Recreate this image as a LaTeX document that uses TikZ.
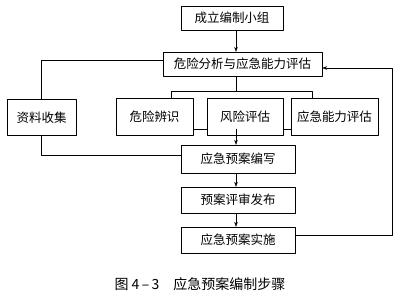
\documentclass[tikz,border=0pt]{standalone}
\usepackage{fontspec}
\newfontfamily\cjk{Noto Sans CJK SC}
\usetikzlibrary{arrows.meta}

\begin{document}
\begin{tikzpicture}[x=1pt,y=-1pt,line cap=round,line join=round,
    box/.style={draw,fill=white,inner sep=0pt,font=\cjk\fontsize{12.5}{14}\selectfont},
    arr/.style={-{Stealth[length=5pt,width=3.6pt]}}]
  \useasboundingbox (0,0) rectangle (400,296);
  \coordinate (spine) at (236,0);
  \coordinate (fb) at (392,0);

  \draw (171,91) rectangle (312,129);

  \node[box,minimum width=102,minimum height=24] (team) at (232,18) {成立编制小组};
  \node[box,minimum width=159,minimum height=24] (analysis) at (242.5,64) {危险分析与应急能力评估};
  \node[box,minimum width=69,minimum height=36] (collect) at (41.5,117.5) {资料收集};
  \node[box,minimum width=77,minimum height=37] (hazard) at (154.5,116.5) {危险辨识};
  \node[box,minimum width=76,minimum height=37] (risk) at (245,116.5) {风险评估};
  \node[box,minimum width=87,minimum height=37] (capacity) at (334.5,116.5) {应急能力评估};
  \node[box,minimum width=114,minimum height=28] (write) at (238,159) {应急预案编写};
  \node[box,minimum width=114,minimum height=26] (review) at (238,200) {预案评审发布};
  \node[box,minimum width=114,minimum height=26] (implement) at (238,240) {应急预案实施};

  \draw[arr] (team.south -| spine) -- (analysis.north -| spine);
  \draw (analysis.south -| spine) -- (spine |- 0,91);
  \draw[arr] (spine |- 0,129) -- (write.north -| spine);
  \draw[arr] (write.south -| spine) -- (review.north -| spine);
  \draw[arr] (review.south -| spine) -- (implement.north -| spine);

  \draw ([yshift=4]analysis.west) -| (collect.north);
  \draw (collect.south) |- ([yshift=4]write.west);
  \draw[arr] ([yshift=5]implement.east) -- ([yshift=5]implement.east -| fb)
    -- ([yshift=-4]analysis.east -| fb) -- ([yshift=-4]analysis.east);

  \node[font=\cjk\fontsize{14}{16}\selectfont] (caption) at (200,284) {图\ 4\,–\,3\quad 应急预案编制步骤};
\end{tikzpicture}
\end{document}
